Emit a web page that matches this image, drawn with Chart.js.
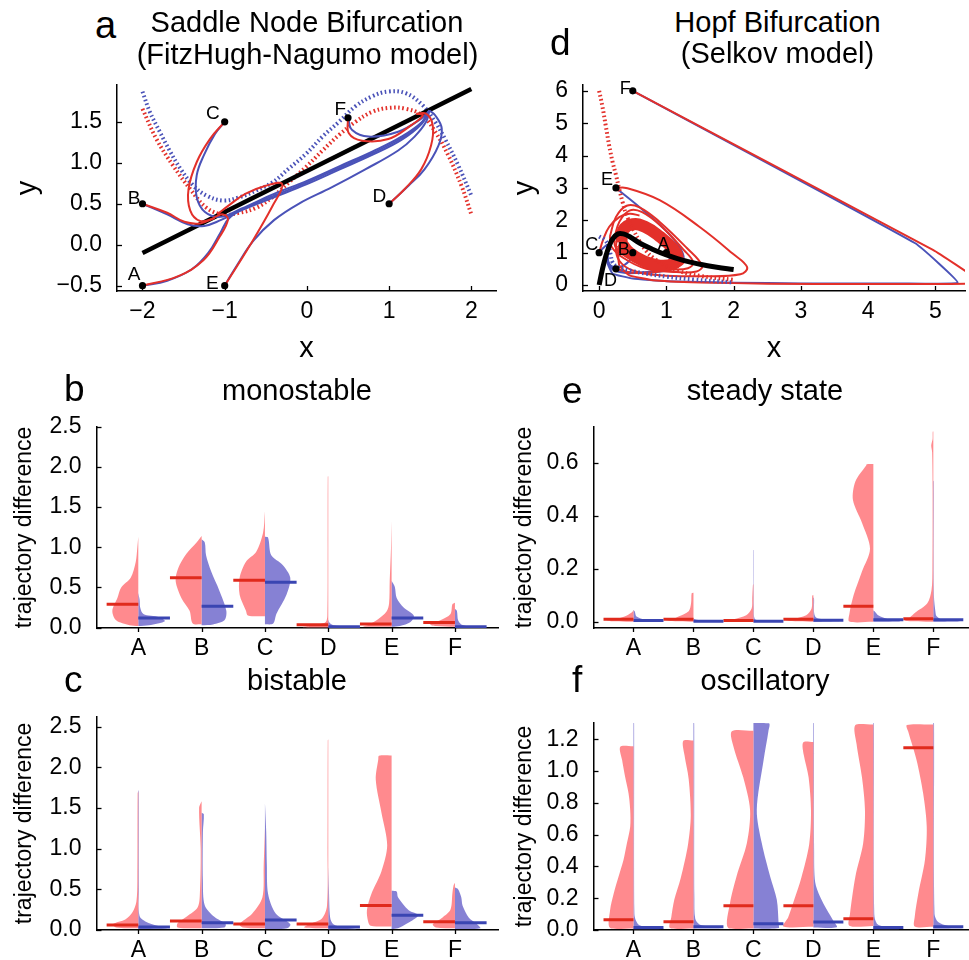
<!DOCTYPE html>
<html>
<head>
<meta charset="utf-8">
<script src="https://cdn.jsdelivr.net/npm/chart.js@4.4.1/dist/chart.umd.min.js"></script>
<style>
  body { margin: 0; width: 969px; height: 960px; background: #fff; position: relative; overflow: hidden;
         font-family: 'Liberation Sans', Arial, Helvetica, sans-serif; }
  canvas { position: absolute; }
  .t { position: absolute; white-space: nowrap; line-height: 1; color: #000; }
  .c { text-align: center; width: 400px; }
</style>
</head>
<body>
<canvas id="pa"></canvas>
<canvas id="pd"></canvas>
<canvas id="pb"></canvas>
<canvas id="pe"></canvas>
<canvas id="pc"></canvas>
<canvas id="pf"></canvas>

<div class="t" style="left:95px;top:6px;font-size:38px">a</div>
<div class="t c" style="left:107px;top:8px;font-size:29px">Saddle Node Bifurcation</div>
<div class="t c" style="left:107.5px;top:39.5px;font-size:29px">(FitzHugh-Nagumo model)</div>
<div class="t" style="left:550px;top:23.7px;font-size:37px">d</div>
<div class="t c" style="left:577.5px;top:8px;font-size:29px">Hopf Bifurcation</div>
<div class="t c" style="left:577.5px;top:38.8px;font-size:29px">(Selkov model)</div>
<div class="t" style="left:64px;top:370.4px;font-size:37px">b</div>
<div class="t c" style="left:97px;top:376.4px;font-size:29px">monostable</div>
<div class="t" style="left:562px;top:371.7px;font-size:37px">e</div>
<div class="t c" style="left:565px;top:376.4px;font-size:29px">steady state</div>
<div class="t" style="left:64px;top:660.7px;font-size:37px">c</div>
<div class="t c" style="left:97px;top:666.4px;font-size:29px">bistable</div>
<div class="t" style="left:572px;top:660.7px;font-size:37px">f</div>
<div class="t c" style="left:565px;top:666.4px;font-size:29px">oscillatory</div>

<script>
// ----------------------------------------------------------------------------
// Data
// ----------------------------------------------------------------------------
const pointNames = ['A', 'B', 'C', 'D', 'E', 'F'];
const categories = ['A', 'B', 'C', 'D', 'E', 'F'];

// FitzHugh-Nagumo phase plane (panel a)
const fhnStartX = [-2, -2, -1, 1, -1, 0.5];
const fhnStartY = [-0.5, 0.5, 1.5, 0.5, -0.5, 1.55];
const fhnNullcline = [[-2, -0.1], [2, 1.9]];
const fhnDottedBlue = [[-2.0, 1.87], [-1.91, 1.62], [-1.79, 1.38], [-1.67, 1.15], [-1.54, 0.93], [-1.38, 0.72],
  [-1.22, 0.6], [-1.02, 0.54], [-0.82, 0.58], [-0.62, 0.66], [-0.42, 0.76], [-0.22, 0.93], [-0.01, 1.11],
  [0.19, 1.32], [0.39, 1.5], [0.59, 1.69], [0.79, 1.81], [0.99, 1.87], [1.2, 1.85], [1.4, 1.71], [1.56, 1.5],
  [1.68, 1.29], [1.84, 0.97], [2.0, 0.6]];
const fhnDottedRed = [[-2.0, 1.66], [-1.83, 1.29], [-1.63, 0.97], [-1.42, 0.68], [-1.22, 0.45], [-1.02, 0.37],
  [-0.82, 0.39], [-0.62, 0.45], [-0.42, 0.58], [-0.22, 0.76], [-0.01, 0.95], [0.19, 1.15], [0.39, 1.34],
  [0.59, 1.5], [0.79, 1.62], [0.99, 1.67], [1.2, 1.66], [1.4, 1.58], [1.56, 1.38], [1.72, 1.09], [1.88, 0.72],
  [2.0, 0.37]];
const fhnBlueA = [[-2, -0.5], [-1.7, -0.44], [-1.4, -0.3], [-1.2, -0.1], [-1.05, 0.15], [-0.95, 0.32], [-0.75, 0.45],
  [-0.4, 0.6], [0, 0.76], [0.4, 0.94], [0.8, 1.12], [1.15, 1.3], [1.38, 1.47], [1.49, 1.64]];
const fhnRedA = [[-2, -0.5], [-1.58, -0.39], [-1.26, -0.19], [-1.06, 0.1], [-0.96, 0.31], [-1.02, 0.37], [-1.12, 0.34]];
const fhnBlueB = [[-2, 0.5], [-1.7, 0.37], [-1.45, 0.25], [-1.25, 0.23], [-1.05, 0.3], [-0.8, 0.42], [-0.4, 0.58],
  [0, 0.74], [0.4, 0.92], [0.8, 1.1], [1.15, 1.28], [1.4, 1.48], [1.49, 1.64]];
const fhnRedB = [[-2, 0.5], [-1.7, 0.39], [-1.49, 0.28], [-1.3, 0.26], [-1.14, 0.32], [-1.12, 0.34]];
const fhnBlueC = [[-1, 1.5], [-1.12, 1.35], [-1.25, 1.1], [-1.34, 0.85], [-1.34, 0.58], [-1.24, 0.4], [-1.05, 0.34],
  [-0.8, 0.44], [-0.4, 0.62], [0, 0.78], [0.4, 0.96], [0.8, 1.14], [1.15, 1.32], [1.4, 1.5], [1.49, 1.64]];
const fhnRedC = [[-1, 1.5], [-1.18, 1.29], [-1.34, 1.01], [-1.44, 0.68], [-1.42, 0.42], [-1.3, 0.29], [-1.14, 0.32], [-1.12, 0.34]];
const fhnBlueD = [[1, 0.5], [1.235, 0.72], [1.43, 0.92], [1.6, 1.21], [1.64, 1.42], [1.56, 1.58], [1.49, 1.64]];
const fhnRedD = [[1, 0.5], [1.19, 0.68], [1.39, 0.92], [1.51, 1.21], [1.53, 1.46], [1.45, 1.6], [1.33, 1.6]];
const fhnBlueE = [[-1, -0.5], [-0.85, -0.25], [-0.65, 0.05], [-0.4, 0.3], [-0.1, 0.5], [0.3, 0.7], [0.71, 0.92],
  [1.11, 1.15], [1.31, 1.32], [1.45, 1.5], [1.49, 1.64]];
const fhnRedE = [[-1, -0.5], [-0.7, -0.02], [-0.42, 0.47], [-0.3, 0.74], [-0.5, 0.72], [-0.75, 0.62], [-0.95, 0.48], [-1.09, 0.37]];
const fhnBlueF = [[0.5, 1.55], [0.55, 1.4], [0.75, 1.32], [1.11, 1.38], [1.39, 1.54], [1.49, 1.64]];
const fhnRedF = [[0.5, 1.55], [0.51, 1.36], [0.67, 1.27], [0.99, 1.29], [1.27, 1.46], [1.41, 1.58], [1.33, 1.6]];

// Selkov phase plane (panel d)
const selStartX = [1, 0.5, 0, 0.25, 0.25, 0.5];
const selStartY = [1, 1, 1, 0.5, 3, 6];
const selNullcline = [[0.0, 0.0], [0.05, 0.5], [0.1, 0.9], [0.15, 1.2], [0.2, 1.42], [0.28, 1.58], [0.36, 1.58],
  [0.45, 1.5], [0.6, 1.3], [0.8, 1.1], [1.0, 0.93], [1.25, 0.76], [1.5, 0.64], [1.75, 0.55], [2.0, 0.48]];
const selDottedRed = [[0, 6.0], [0.05, 5.5], [0.1, 4.9], [0.15, 4.3], [0.2, 3.8], [0.25, 3.4], [0.3, 2.95],
  [0.35, 2.55], [0.4, 2.2], [0.5, 1.75], [0.6, 1.35], [0.7, 1.05], [0.8, 0.85], [1.0, 0.58], [1.2, 0.42],
  [1.5, 0.28], [2.0, 0.16]];
const selDottedBlue = [[0, 1.5], [0.08, 1.4], [0.14, 1.2], [0.17, 0.95], [0.2, 0.7], [0.28, 0.55], [0.45, 0.45],
  [0.7, 0.35], [1.0, 0.26], [1.4, 0.17], [2.0, 0.08]];
const selCycle = [[0.33, 1.3], [0.36, 1.7], [0.5, 1.88], [0.68, 1.8], [0.9, 1.5], [1.1, 1.12], [1.17, 0.82],
  [1.1, 0.65], [0.9, 0.6], [0.65, 0.75], [0.45, 1.0], [0.33, 1.3]];
const selLoopOuter = [[0.16, 1.5], [0.25, 2.1], [0.41, 2.45], [0.6, 2.4], [0.9, 1.95], [1.3, 1.15], [1.53, 0.6],
  [1.45, 0.42], [1.15, 0.4], [0.7, 0.5], [0.35, 0.85], [0.18, 1.2], [0.16, 1.5]];
const selLoopInner = [[0.22, 1.4], [0.3, 1.95], [0.45, 2.3], [0.64, 2.25], [0.93, 1.8], [1.25, 1.1], [1.4, 0.7],
  [1.32, 0.52], [1.1, 0.48], [0.75, 0.55], [0.42, 0.85], [0.25, 1.15], [0.22, 1.4]];
const selBlueA = [[1.0, 1.0], [1.05, 0.75], [0.9, 0.5], [0.6, 0.38], [0.3, 0.4], [0.15, 0.6], [0.12, 1.25]];
const selBlueB = [[0.5, 1.0], [0.45, 0.75], [0.3, 0.55], [0.17, 0.6], [0.12, 0.9], [0.12, 1.25]];
const selBlueC = [[0, 1.0], [0.05, 1.12], [0.12, 1.25]];
const selBlueD = [[0.25, 0.5], [0.15, 0.6], [0.12, 0.9], [0.12, 1.25]];
const selBlueE = [[0.25, 3.0], [0.65, 2.32], [1.03, 1.6], [1.22, 1.08], [1.25, 0.75], [1.1, 0.5], [0.8, 0.4],
  [0.5, 0.38], [0.25, 0.45], [0.13, 0.7], [0.12, 1.0], [0.12, 1.25]];
const selBlueF = [[0.5, 6.0], [4.7, 1.29], [5.33, 0.08], [4.5, 0.05], [3.0, 0.05], [2.0, 0.07], [1.0, 0.12],
  [0.5, 0.2], [0.2, 0.35], [0.12, 0.7], [0.12, 1.25]];
const selRedC = [[0, 1.0], [0.06, 1.4], [0.15, 1.8], [0.3, 2.1], [0.45, 2.2], [0.6, 2.15]];
const selRedD = [[0.25, 0.5], [0.5, 0.38], [0.9, 0.42], [1.2, 0.6], [1.3, 0.8]];
const selRedE = [[0.25, 3.0], [0.4, 3.0], [0.9, 2.62], [1.49, 1.8], [1.98, 0.98], [2.2, 0.55], [2.1, 0.33],
  [1.5, 0.27], [0.9, 0.3], [0.5, 0.45], [0.3, 0.75], [0.25, 1.2], [0.32, 1.7], [0.45, 2.05]];
const selRedF = [[0.5, 6.0], [4.97, 1.08], [5.6, 0.2], [5.5, 0.04], [4.0, 0.03], [2.5, 0.04], [1.5, 0.08],
  [0.8, 0.15], [0.45, 0.3], [0.3, 0.6], [0.28, 1.0], [0.33, 1.5], [0.45, 1.95]];

// Trajectory differences: half-violin profiles as [value, half width], medians per category
const monoRed = [
  [[0.02, 0], [0.03, 0.14], [0.09, 0.35], [0.21, 0.41], [0.37, 0.33], [0.5, 0.27], [0.62, 0.12], [0.82, 0.04], [1.0, 0.015], [1.13, 0]],
  [[0.04, 0], [0.05, 0.14], [0.21, 0.19], [0.37, 0.32], [0.58, 0.41], [0.74, 0.37], [0.92, 0.24], [1.06, 0.08], [1.14, 0]],
  [[0.14, 0], [0.15, 0.27], [0.21, 0.3], [0.41, 0.4], [0.62, 0.4], [0.82, 0.3], [0.94, 0.14], [1.18, 0.03], [1.45, 0]],
  [[0, 0], [0.005, 0.4], [0.02, 0.3], [0.04, 0.15], [0.07, 0.04], [0.15, 0.015], [1.0, 0.01], [1.88, 0.008], [1.885, 0]],
  [[0.01, 0], [0.015, 0.45], [0.04, 0.35], [0.1, 0.22], [0.2, 0.08], [0.3, 0.04], [0.58, 0.03], [0.98, 0.01], [1.33, 0]],
  [[0.01, 0], [0.02, 0.3], [0.04, 0.39], [0.09, 0.23], [0.17, 0.07], [0.29, 0.04], [0.31, 0]]
];
const monoBlue = [
  [[0.02, 0], [0.03, 0.17], [0.08, 0.42], [0.13, 0.33], [0.17, 0.08], [0.25, 0.03], [0.35, 0.02], [0.43, 0]],
  [[0.03, 0], [0.04, 0.18], [0.09, 0.36], [0.21, 0.39], [0.46, 0.28], [0.7, 0.15], [0.9, 0.07], [1.06, 0.05], [1.1, 0]],
  [[0.04, 0], [0.05, 0.13], [0.17, 0.18], [0.41, 0.34], [0.62, 0.4], [0.78, 0.28], [0.9, 0.1], [1.12, 0.05], [1.13, 0]],
  [[0, 0], [0.005, 0.5], [0.015, 0.3], [0.03, 0.08], [0.06, 0.02], [0.1, 0]],
  [[0.01, 0], [0.02, 0.13], [0.07, 0.3], [0.15, 0.35], [0.25, 0.19], [0.37, 0.08], [0.51, 0.05], [0.58, 0]],
  [[0, 0], [0.005, 0.45], [0.02, 0.2], [0.04, 0.1], [0.09, 0.05], [0.21, 0.03], [0.23, 0]]
];
const monoRedMedian = [0.29, 0.62, 0.59, 0.034, 0.046, 0.063];
const monoBlueMedian = [0.12, 0.265, 0.565, 0.01, 0.12, 0.01];

const biRed = [
  [[0.02, 0], [0.03, 0.35], [0.07, 0.4], [0.13, 0.2], [0.22, 0.09], [0.35, 0.03], [0.6, 0.015], [1.68, 0.01], [1.7, 0]],
  [[0.02, 0], [0.03, 0.38], [0.08, 0.38], [0.16, 0.24], [0.28, 0.06], [0.5, 0.025], [1.0, 0.015], [1.5, 0.04], [1.58, 0]],
  [[0.02, 0], [0.03, 0.35], [0.07, 0.4], [0.2, 0.2], [0.4, 0.04], [0.78, 0.02], [1.25, 0]],
  [[0.02, 0], [0.03, 0.38], [0.07, 0.3], [0.14, 0.1], [0.3, 0.02], [1.0, 0.012], [2.33, 0.008], [2.34, 0]],
  [[0.04, 0], [0.05, 0.33], [0.1, 0.37], [0.24, 0.39], [0.44, 0.32], [0.72, 0.16], [1.04, 0.07], [1.44, 0.16], [1.845, 0.25], [2.1, 0.21], [2.14, 0.2], [2.145, 0]],
  [[0.02, 0], [0.03, 0.3], [0.07, 0.35], [0.15, 0.2], [0.25, 0.07], [0.45, 0.04], [0.55, 0.02], [0.58, 0]]
];
const biBlue = [
  [[0.01, 0], [0.02, 0.45], [0.05, 0.3], [0.1, 0.12], [0.17, 0.02], [0.5, 0.01], [1.7, 0.008], [1.72, 0]],
  [[0.02, 0], [0.03, 0.36], [0.07, 0.38], [0.16, 0.2], [0.3, 0.05], [0.6, 0.02], [1.2, 0.02], [1.42, 0.035], [1.44, 0]],
  [[0.01, 0], [0.02, 0.35], [0.07, 0.4], [0.2, 0.17], [0.44, 0.05], [0.8, 0.03], [1.2, 0.02], [1.56, 0]],
  [[0.005, 0], [0.01, 0.45], [0.03, 0.25], [0.07, 0.08], [0.15, 0.03], [0.5, 0.01], [0.78, 0]],
  [[0.01, 0], [0.02, 0.1], [0.08, 0.25], [0.18, 0.42], [0.24, 0.27], [0.4, 0.1], [0.47, 0.08], [0.48, 0]],
  [[0.01, 0], [0.02, 0.4], [0.07, 0.35], [0.15, 0.22], [0.3, 0.12], [0.4, 0.1], [0.5, 0.05], [0.52, 0]]
];
const biRedMedian = [0.058, 0.11, 0.073, 0.073, 0.30, 0.098];
const biBlueMedian = [0.034, 0.086, 0.12, 0.036, 0.18, 0.086];

const steadyRed = [
  [[0, 0], [0.003, 0.45], [0.01, 0.3], [0.02, 0.15], [0.035, 0.03], [0.045, 0]],
  [[0, 0], [0.004, 0.45], [0.01, 0.35], [0.02, 0.25], [0.04, 0.08], [0.07, 0.04], [0.108, 0.03], [0.11, 0]],
  [[0, 0], [0.004, 0.45], [0.01, 0.33], [0.025, 0.12], [0.05, 0.03], [0.09, 0.02], [0.14, 0.008], [0.142, 0]],
  [[0, 0], [0.004, 0.45], [0.01, 0.35], [0.025, 0.12], [0.05, 0.03], [0.098, 0.02], [0.1, 0]],
  [[0, 0], [0.001, 0.4], [0.03, 0.4], [0.1, 0.33], [0.19, 0.19], [0.276, 0.056], [0.374, 0.19], [0.46, 0.34], [0.53, 0.3], [0.59, 0.12], [0.595, 0.11], [0.596, 0]],
  [[0, 0], [0.004, 0.48], [0.015, 0.4], [0.035, 0.3], [0.07, 0.1], [0.12, 0.03], [0.2, 0.015], [0.5, 0.012], [0.64, 0.02], [0.665, 0.035], [0.69, 0.012], [0.717, 0.01], [0.718, 0]]
];
const steadyBlue = [
  [[0, 0], [0.003, 0.45], [0.008, 0.2], [0.02, 0.05], [0.04, 0.02], [0.045, 0]],
  [[0, 0], [0.002, 0.4], [0.005, 0.15], [0.01, 0.02], [0.015, 0]],
  [[0, 0], [0.002, 0.4], [0.006, 0.1], [0.012, 0.02], [0.05, 0.008], [0.27, 0.006], [0.272, 0]],
  [[0, 0], [0.003, 0.45], [0.008, 0.2], [0.02, 0.03], [0.09, 0.01], [0.092, 0]],
  [[0, 0], [0.002, 0.45], [0.01, 0.25], [0.025, 0.08], [0.04, 0.02], [0.043, 0]],
  [[0, 0], [0.002, 0.45], [0.008, 0.15], [0.02, 0.06], [0.03, 0.04], [0.1, 0.01], [0.53, 0.008], [0.532, 0]]
];
const steadyRedMedian = [0.01, 0.01, 0.005, 0.01, 0.059, 0.012];
const steadyBlueMedian = [0.005, 0.002, 0.002, 0.006, 0.008, 0.008];

const oscRed = [
  [[0.01, 0], [0.012, 0.39], [0.126, 0.39], [0.23, 0.33], [0.335, 0.25], [0.44, 0.167], [0.545, 0.11], [0.65, 0.055], [0.755, 0.055], [0.86, 0.083], [0.964, 0.14], [1.069, 0.19], [1.153, 0.22], [1.155, 0]],
  [[0.01, 0], [0.012, 0.39], [0.08, 0.37], [0.19, 0.32], [0.33, 0.21], [0.54, 0.09], [0.72, 0.045], [0.95, 0.08], [1.1, 0.15], [1.19, 0.17], [1.192, 0]],
  [[0.01, 0], [0.012, 0.42], [0.17, 0.39], [0.34, 0.28], [0.545, 0.11], [0.755, 0.056], [0.96, 0.17], [1.15, 0.33], [1.25, 0.36], [1.253, 0]],
  [[0.02, 0], [0.022, 0.5], [0.08, 0.42], [0.19, 0.32], [0.33, 0.2], [0.54, 0.07], [0.75, 0.04], [0.96, 0.08], [1.1, 0.16], [1.18, 0.17], [1.182, 0]],
  [[0.025, 0], [0.027, 0.4], [0.1, 0.39], [0.335, 0.3], [0.545, 0.17], [0.755, 0.14], [0.96, 0.19], [1.17, 0.28], [1.29, 0.3], [1.292, 0]],
  [[0.02, 0], [0.022, 0.31], [0.084, 0.31], [0.23, 0.25], [0.44, 0.14], [0.65, 0.11], [0.86, 0.17], [1.07, 0.28], [1.25, 0.42], [1.29, 0.44], [1.292, 0]]
];
const oscBlue = [
  [[0.005, 0], [0.007, 0.5], [0.015, 0.3], [0.03, 0.1], [0.06, 0.04], [0.1, 0.015], [1.3, 0.01], [1.302, 0]],
  [[0.01, 0], [0.012, 0.5], [0.02, 0.3], [0.035, 0.1], [0.07, 0.03], [0.2, 0.015], [1.3, 0.012], [1.302, 0]],
  [[0.01, 0], [0.012, 0.42], [0.04, 0.42], [0.19, 0.39], [0.335, 0.28], [0.545, 0.14], [0.755, 0.056], [1.07, 0.17], [1.25, 0.25], [1.3, 0.26], [1.302, 0]],
  [[0.015, 0], [0.017, 0.39], [0.06, 0.33], [0.13, 0.22], [0.21, 0.11], [0.3, 0.03], [0.5, 0.012], [1.3, 0.01], [1.302, 0]],
  [[0.005, 0], [0.007, 0.45], [0.02, 0.2], [0.04, 0.06], [0.1, 0.015], [1.3, 0.01], [1.302, 0]],
  [[0.01, 0], [0.012, 0.5], [0.025, 0.25], [0.05, 0.08], [0.1, 0.02], [1.3, 0.012], [1.302, 0]]
];
const oscRedMedian = [0.065, 0.052, 0.153, 0.153, 0.071, 1.147];
const oscBlueMedian = [0.015, 0.02, 0.04, 0.05, 0.015, 0.02];

// Tick values
const fhnTicksX = [-2, -1, 0, 1, 2];
const fhnTicksY = [-0.5, 0, 0.5, 1, 1.5];
const selTicksX = [0, 1, 2, 3, 4, 5];
const selTicksY = [0, 1, 2, 3, 4, 5, 6];
const catTicks = [0, 1, 2, 3, 4, 5];
const diffTicksWide = [0, 0.5, 1, 1.5, 2, 2.5];
const diffTicksSteady = [0, 0.2, 0.4, 0.6];
const diffTicksOsc = [0, 0.2, 0.4, 0.6, 0.8, 1.0, 1.2];

// ----------------------------------------------------------------------------
// Styling and helpers
// ----------------------------------------------------------------------------
const FONT = "'Liberation Sans', Arial, Helvetica, sans-serif";
const TICK_SIZE = 23;
Chart.defaults.font.family = FONT;
Chart.defaults.color = '#000';

const RED = '#e3302a';
const BLUE = '#4a52b8';
const RED_FILL = 'rgba(255,112,117,0.82)';
const BLUE_FILL = 'rgba(100,94,200,0.78)';
const RED_MED = '#e02a1c';
const BLUE_MED = '#3a45b2';

const pts = arr => arr.map(p => ({x: p[0], y: p[1]}));
const signed = (v, digits) => (v < 0 ? '\u2212' : '') + Math.abs(v).toFixed(digits);

function curve(arr, color, width, order, extra) {
  return Object.assign({
    data: pts(arr), showLine: true, borderColor: color, borderWidth: width,
    pointRadius: 0, pointHoverRadius: 0, tension: 0.4, fill: false, order: order
  }, extra || {});
}
function dotted(arr, color, order) {
  return curve(arr, color, 4, order, {borderDash: [1.6, 2.6], borderCapStyle: 'butt', tension: 0.4});
}
function markers(xs, ys) {
  return {
    data: xs.map((x, i) => ({x: x, y: ys[i]})), showLine: false, pointRadius: 3.6,
    pointBackgroundColor: '#000', pointBorderWidth: 0, order: 0, clip: false
  };
}

// short tick marks drawn from the scales' own ticks
const tickMarks = {
  id: 'tickMarks',
  afterDraw(chart, args, opts) {
    const {ctx, chartArea: ca} = chart;
    const sx = chart.scales.x, sy = chart.scales.y;
    ctx.save();
    ctx.strokeStyle = '#000';
    ctx.lineWidth = 1.3;
    sy.ticks.forEach(t => {
      const p = Math.round(sy.getPixelForValue(t.value)) + 0.5;
      ctx.beginPath(); ctx.moveTo(ca.left, p); ctx.lineTo(ca.left + opts.yLen, p); ctx.stroke();
    });
    sx.ticks.forEach(t => {
      const p = Math.round(sx.getPixelForValue(t.value)) + 0.5;
      ctx.beginPath(); ctx.moveTo(p, ca.bottom); ctx.lineTo(p, ca.bottom + opts.xLen); ctx.stroke();
    });
    ctx.restore();
  }
};

// names written next to the starting points
const startNames = {
  id: 'startNames',
  afterDatasetsDraw(chart, args, opts) {
    if (!opts.names) return;
    const {ctx} = chart;
    const sx = chart.scales.x, sy = chart.scales.y;
    ctx.save();
    ctx.font = opts.size + 'px ' + FONT;
    ctx.fillStyle = '#000';
    ctx.textAlign = 'right';
    ctx.textBaseline = 'alphabetic';
    opts.names.forEach((n, i) => {
      ctx.fillText(n, sx.getPixelForValue(opts.xs[i]) + opts.dx[i], sy.getPixelForValue(opts.ys[i]) + opts.dy[i]);
    });
    ctx.restore();
  }
};

function axis(s, size, horiz) {
  return {
    type: 'linear', min: s.min, max: s.max,
    afterFit: sc => { if (horiz) sc.height = size; else sc.width = size; },
    afterBuildTicks: sc => { sc.ticks = s.ticks.map(v => ({value: v})); },
    ticks: {
      callback: s.fmt, padding: s.pad, font: {size: TICK_SIZE, family: FONT}, color: '#000',
      autoSkip: false, maxRotation: 0, minRotation: 0
    },
    grid: {display: false, drawTicks: false},
    border: {display: true, color: '#000', width: 1.5},
    title: s.title ? {
      display: true, text: s.title, color: '#000', font: {size: s.titleSize, family: FONT},
      padding: horiz ? {top: 0, bottom: s.titlePad} : {top: s.titlePad, bottom: 0}
    } : {display: false}
  };
}

function panel(id, box, area, sx, sy, datasets, pluginOpts) {
  const cv = document.getElementById(id);
  cv.width = box.w; cv.height = box.h;
  cv.style.left = box.left + 'px'; cv.style.top = box.top + 'px';
  cv.style.width = box.w + 'px'; cv.style.height = box.h + 'px';
  return new Chart(cv, {
    type: 'scatter',
    data: {datasets: datasets},
    options: {
      responsive: false, animation: false, devicePixelRatio: 1,
      layout: {padding: {left: 0, top: area.t - box.top, right: box.left + box.w - area.r, bottom: 0}},
      plugins: Object.assign({legend: {display: false}, tooltip: {enabled: false}}, pluginOpts),
      scales: {
        x: axis(sx, box.top + box.h - area.b, true),
        y: axis(sy, area.l - box.left, false)
      }
    },
    plugins: [tickMarks, startNames]
  });
}

function violins(redProf, blueProf, redMed, blueMed) {
  const sets = [];
  categories.forEach((c, i) => {
    sets.push({
      data: redProf[i].map(p => ({x: i - p[1], y: p[0]})), showLine: true, fill: 'shape',
      backgroundColor: RED_FILL, borderColor: 'rgba(0,0,0,0)', borderWidth: 1, pointRadius: 0, tension: 0.3, order: 2
    });
    sets.push({
      data: blueProf[i].map(p => ({x: i + p[1], y: p[0]})), showLine: true, fill: 'shape',
      backgroundColor: BLUE_FILL, borderColor: 'rgba(0,0,0,0)', borderWidth: 1, pointRadius: 0, tension: 0.3, order: 2
    });
    sets.push({
      data: [{x: i - 0.5, y: redMed[i]}, {x: i, y: redMed[i]}], showLine: true,
      borderColor: RED_MED, borderWidth: 3, pointRadius: 0, order: 0
    });
    sets.push({
      data: [{x: i, y: blueMed[i]}, {x: i + 0.5, y: blueMed[i]}], showLine: true,
      borderColor: BLUE_MED, borderWidth: 3, pointRadius: 0, order: 0
    });
  });
  return sets;
}

const fmt1 = v => signed(v, 1);
const catFmt = v => categories[Math.round(v)];
const intFmt = v => signed(v, 0);

// ----------------------------------------------------------------------------
// a: saddle node bifurcation
// ----------------------------------------------------------------------------
panel('pa', {left: 0, top: 55, w: 500, h: 325}, {l: 117, t: 85, r: 498, b: 291},
  {min: -2.31, max: 2.3, ticks: fhnTicksX, fmt: intFmt, pad: 7, title: 'x', titleSize: 29, titlePad: 13.6},
  {min: -0.565, max: 1.95, ticks: fhnTicksY, fmt: fmt1, pad: 15, title: 'y', titleSize: 29, titlePad: 11},
  [
    dotted(fhnDottedBlue, BLUE, 6),
    dotted(fhnDottedRed, RED, 6),
    curve(fhnNullcline, '#000', 4.5, 5, {tension: 0}),
    curve(fhnBlueA, BLUE, 2, 3), curve(fhnBlueB, BLUE, 2, 3), curve(fhnBlueC, BLUE, 2, 3),
    curve(fhnBlueD, BLUE, 2, 3), curve(fhnBlueE, BLUE, 2, 3), curve(fhnBlueF, BLUE, 2, 3),
    curve(fhnRedA, RED, 2, 2), curve(fhnRedB, RED, 2, 2), curve(fhnRedC, RED, 2, 2),
    curve(fhnRedD, RED, 2, 2), curve(fhnRedE, RED, 2, 2), curve(fhnRedF, RED, 2, 2),
    markers(fhnStartX, fhnStartY)
  ],
  {
    tickMarks: {xLen: -5, yLen: 5},
    startNames: {names: pointNames, xs: fhnStartX, ys: fhnStartY, size: 19,
      dx: [-2, -2, -5, -3, -6, -2], dy: [-6, 0, -3, -2, 3, -3]}
  });

// ----------------------------------------------------------------------------
// d: Hopf bifurcation
// ----------------------------------------------------------------------------
panel('pd', {left: 490, top: 55, w: 479, h: 325}, {l: 583, t: 85, r: 969, b: 291},
  {min: -0.24, max: 5.44, ticks: selTicksX, fmt: intFmt, pad: 7, title: 'x', titleSize: 29, titlePad: 13.6},
  {min: -0.185, max: 6.18, ticks: selTicksY, fmt: intFmt, pad: 15, title: 'y', titleSize: 29, titlePad: 18},
  [
    curve(selBlueA, BLUE, 2, 7), curve(selBlueB, BLUE, 2, 7), curve(selBlueC, BLUE, 2, 7),
    curve(selBlueD, BLUE, 2, 7), curve(selBlueE, BLUE, 2, 7), curve(selBlueF, BLUE, 2, 7, {tension: 0.1}),
    curve(selLoopOuter, RED, 2, 6), curve(selLoopInner, RED, 2, 6),
    curve(selRedC, RED, 2, 6), curve(selRedD, RED, 2, 6), curve(selRedE, RED, 2, 6),
    curve(selRedF, RED, 2, 6, {tension: 0.1}),
    curve(selCycle, RED, 12, 5, {tension: 0.45}),
    dotted(selDottedRed, RED, 4),
    dotted(selDottedBlue, BLUE, 4),
    curve(selNullcline, '#000', 5, 3),
    markers(selStartX, selStartY)
  ],
  {
    tickMarks: {xLen: -5, yLen: 5},
    startNames: {names: pointNames, xs: selStartX, ys: selStartY, size: 18,
      dx: [3, -3, -1, 1, -3, -2], dy: [-3, 2, -3, 17, -3, 3]}
  });

// ----------------------------------------------------------------------------
// b, c, e, f: trajectory differences
// ----------------------------------------------------------------------------
const diffTitle = 'trajectory difference';

panel('pb', {left: 0, top: 398, w: 500, h: 267}, {l: 96.5, t: 421.5, r: 498, b: 628},
  {min: -0.66, max: 5.68, ticks: catTicks, fmt: catFmt, pad: 7},
  {min: -0.005, max: 2.5, ticks: diffTicksWide, fmt: fmt1, pad: 15, title: diffTitle, titleSize: 23, titlePad: 11},
  violins(monoRed, monoBlue, monoRedMedian, monoBlueMedian),
  {tickMarks: {xLen: 4, yLen: 5}, startNames: {}});

panel('pc', {left: 0, top: 688, w: 500, h: 272}, {l: 96.5, t: 712, r: 498, b: 930},
  {min: -0.66, max: 5.68, ticks: catTicks, fmt: catFmt, pad: 7},
  {min: -0.002, max: 2.62, ticks: diffTicksWide, fmt: fmt1, pad: 15, title: diffTitle, titleSize: 23, titlePad: 11},
  violins(biRed, biBlue, biRedMedian, biBlueMedian),
  {tickMarks: {xLen: 4, yLen: 5}, startNames: {}});

panel('pe', {left: 510, top: 398, w: 459, h: 267}, {l: 593.5, t: 421.5, r: 969, b: 628},
  {min: -0.667, max: 5.595, ticks: catTicks, fmt: catFmt, pad: 7},
  {min: -0.0232, max: 0.736, ticks: diffTicksSteady, fmt: fmt1, pad: 15, title: diffTitle, titleSize: 23, titlePad: 0.5},
  violins(steadyRed, steadyBlue, steadyRedMedian, steadyBlueMedian),
  {tickMarks: {xLen: 4, yLen: 5}, startNames: {}});

panel('pf', {left: 510, top: 688, w: 459, h: 272}, {l: 593.5, t: 723, r: 969, b: 930},
  {min: -0.667, max: 5.595, ticks: catTicks, fmt: catFmt, pad: 7},
  {min: 0, max: 1.302, ticks: diffTicksOsc, fmt: fmt1, pad: 15, title: diffTitle, titleSize: 23, titlePad: 0.5},
  violins(oscRed, oscBlue, oscRedMedian, oscBlueMedian),
  {tickMarks: {xLen: 4, yLen: 5}, startNames: {}});
</script>
</body>
</html>
